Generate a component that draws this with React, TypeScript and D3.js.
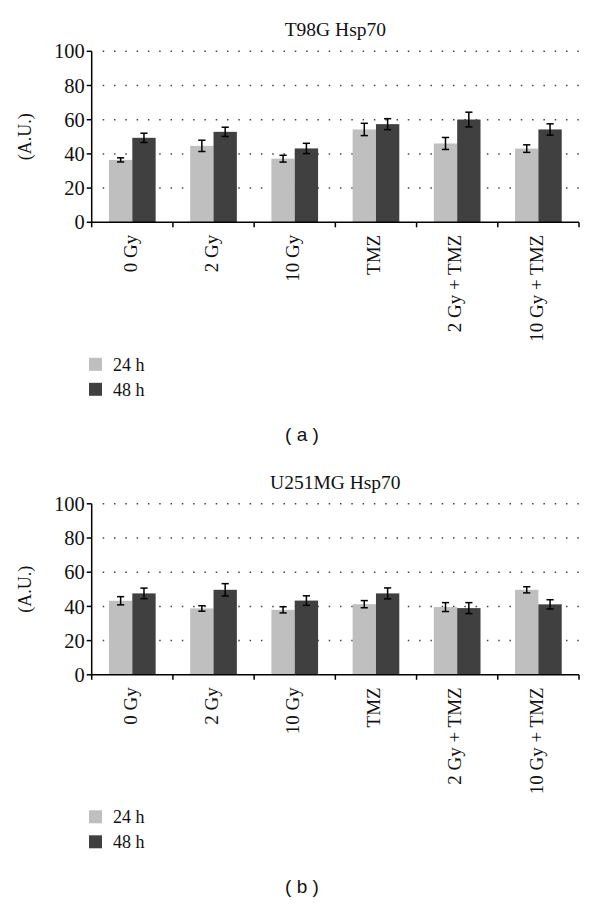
import React from 'react';
import * as d3 from 'd3';

// Categories and series
const categories = ['0 Gy', '2 Gy', '10 Gy', 'TMZ', '2 Gy + TMZ', '10 Gy + TMZ'];
const seriesNames = ['24 h', '48 h'];
const seriesColors = ['#bfbfbf', '#404040'];
const yTicks = [0, 20, 40, 60, 80, 100];

// T98G Hsp70 (a)
const t98g24 = [36.5, 44.7, 37.2, 54.3, 46.1, 43.1];
const t98g24Err = [1.2, 3.3, 2.0, 3.6, 3.5, 2.2];
const t98g48 = [49.4, 52.9, 43.2, 57.4, 60.1, 54.3];
const t98g48Err = [2.7, 2.7, 3.0, 3.2, 4.3, 3.3];

// U251MG Hsp70 (b)
const u251mg24 = [43.3, 38.8, 38.0, 41.3, 39.6, 49.7];
const u251mg24Err = [2.4, 1.6, 1.8, 2.1, 2.6, 1.8];
const u251mg48 = [47.6, 49.7, 43.4, 47.6, 39.0, 41.2];
const u251mg48Err = [3.1, 3.6, 2.8, 3.2, 3.2, 2.7];

const serif = '"Liberation Serif", "Times New Roman", serif';
const sans = '"Liberation Sans", Arial, sans-serif';

type PanelProps = {
  top: number;
  title: string;
  letter: string;
  values: number[][];
  errors: number[][];
};

const Panel = ({ top, title, letter, values, errors }: PanelProps) => {
  const left = 91.7;
  const right = 579;
  const plotTop = top;
  const plotBottom = top + 171;

  const x0 = d3.scaleBand().domain(categories).range([left, right]).padding(0);
  const x1 = d3.scaleBand()
    .domain(seriesNames)
    .range([0, x0.bandwidth()])
    .paddingInner(0)
    .paddingOuter(0.74);
  const y = d3.scaleLinear().domain([0, 100]).range([plotBottom, plotTop]);

  const boundaries = [...categories.map(c => x0(c) as number), right];

  return (
    <g>
      <text x={(left + right) / 2} y={plotTop - 15} textAnchor="middle"
        fontFamily={serif} fontSize={19.5} fill="#111">{title}</text>

      {/* dotted grid */}
      {yTicks.filter(t => t > 0).map(t => (
        <line key={t} x1={left + 11} x2={right} y1={y(t)} y2={y(t)}
          stroke="#444" strokeWidth={1.5} strokeDasharray="1.5,9.8" />
      ))}

      {/* bars */}
      {categories.map((c, i) => (
        <g key={c} transform={`translate(${x0(c)},0)`}>
          {seriesNames.map((s, j) => {
            const v = values[j][i];
            const e = errors[j][i];
            const bx = x1(s) as number;
            const cx = bx + x1.bandwidth() / 2;
            return (
              <g key={s}>
                <rect x={bx} y={y(v)} width={x1.bandwidth()} height={plotBottom - y(v)}
                  fill={seriesColors[j]} />
                <line x1={cx} x2={cx} y1={y(v + e)} y2={y(v - e)} stroke="#000" strokeWidth={1.5} />
                <line x1={cx - 3.6} x2={cx + 3.6} y1={y(v + e)} y2={y(v + e)} stroke="#000" strokeWidth={1.5} />
                <line x1={cx - 3.6} x2={cx + 3.6} y1={y(v - e)} y2={y(v - e)} stroke="#000" strokeWidth={1.5} />
              </g>
            );
          })}
        </g>
      ))}

      {/* y axis */}
      <line x1={left} x2={left} y1={plotTop} y2={plotBottom} stroke="#000" strokeWidth={1.5} />
      {yTicks.map(t => (
        <g key={t}>
          <line x1={left - 5} x2={left} y1={y(t)} y2={y(t)} stroke="#000" strokeWidth={1.5} />
          <text x={left - 7} y={y(t)} dy="0.35em" textAnchor="end"
            fontFamily={serif} fontSize={20.5} fill="#111">{t}</text>
        </g>
      ))}
      <text transform={`translate(31,${(plotTop + plotBottom) / 2}) rotate(-90)`}
        textAnchor="middle" fontFamily={serif} fontSize={18} fill="#111">(A.U.)</text>

      {/* x axis */}
      <line x1={left} x2={right} y1={plotBottom} y2={plotBottom} stroke="#000" strokeWidth={1.5} />
      {boundaries.map((bx, i) => (
        <line key={i} x1={bx} x2={bx} y1={plotBottom} y2={plotBottom + 5} stroke="#000" strokeWidth={1.5} />
      ))}
      {categories.map(c => (
        <text key={c}
          transform={`translate(${(x0(c) as number) + x0.bandwidth() / 2 - 2},${plotBottom + 12.5}) rotate(-90)`}
          dy="0.33em" textAnchor="end" fontFamily={serif} fontSize={19} fill="#111">{c}</text>
      ))}

      {/* legend */}
      {seriesNames.map((s, j) => {
        const ly = plotBottom + 142 + j * 25;
        return (
          <g key={s}>
            <rect x={89} y={ly - 6.5} width={13} height={13} fill={seriesColors[j]} />
            <text x={113} y={ly} dy="0.35em" fontFamily={serif} fontSize={18} fill="#111">{s}</text>
          </g>
        );
      })}

      <text x={302} y={plotBottom + 212} dy="0.35em" textAnchor="middle"
        fontFamily={sans} fontSize={19} fill="#111">( {letter} )</text>
    </g>
  );
};

export default function App() {
  return (
    <svg width={600} height={905} style={{ position: 'absolute', left: 0, top: 0, background: '#fff' }}>
      <rect width={600} height={905} fill="#fff" />
      <Panel top={51.3} title="T98G Hsp70" letter="a"
        values={[t98g24, t98g48]} errors={[t98g24Err, t98g48Err]} />
      <Panel top={503.8} title="U251MG Hsp70" letter="b"
        values={[u251mg24, u251mg48]} errors={[u251mg24Err, u251mg48Err]} />
    </svg>
  );
}
